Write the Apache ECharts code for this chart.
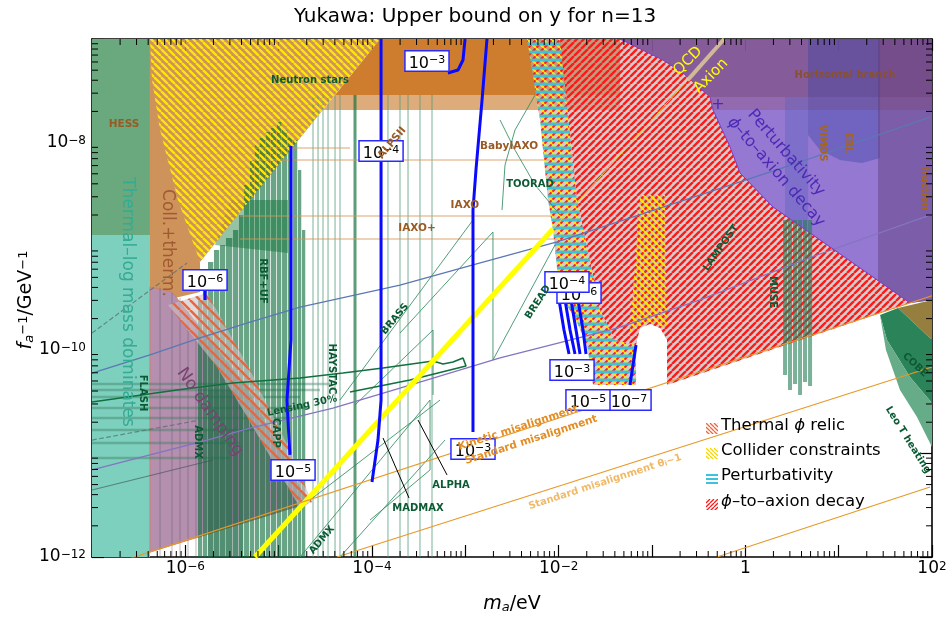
<!DOCTYPE html>
<html>
<head>
<meta charset="utf-8">
<script src="https://cdn.jsdelivr.net/npm/echarts@6.0.0/dist/echarts.min.js"></script>
<style>html,body{margin:0;padding:0;background:#fff}#chart{width:950px;height:620px}</style>
</head>
<body>
<div id="chart"></div>
<script>
// All coordinates are [log10(m_a / eV), log10(f_a^-1 / GeV^-1)].

// ---- excluded / shaded regions ----
const thermalLog = [[-7,-8.892],[-6.379,-8.892],[-6.379,-12],[-7,-12]];
const hess = [[-7,-7],[-6.379,-7],[-6.379,-8.892],[-7,-8.892]];
const hessBand = [[-5.521,-8.554],[-4.9,-8.554],[-4.9,-9.066],[-5.682,-8.988]];
const starBand = [[-3.914,-7],[-1.343,-7],[-1.343,-7.541],[-4.396,-7.541]];
const starBandLight = [[-4.396,-7.541],[-1.343,-7.541],[-1.343,-7.685],[-4.525,-7.685]];
const collTherm = [[-6.379,-7],[-3.914,-7],[-5.843,-9.152],[-5.843,-9.442],[-6.111,-9.5],[-6.379,-9.394]];
const collider = [[-6.379,-7],[-3.914,-7],[-5.843,-9.152],[-6.079,-8.554],[-6.271,-7.878],[-6.357,-7.396]];
const noDamping = [[-6.379,-9.394],[-6.143,-9.442],[-5.361,-10.34],[-4.686,-11.479],[-6.379,-11.952]];
const greyColumn = [[-5.757,-10.388],[-5.382,-10.388],[-5.382,-12],[-5.757,-12]];
const thermalRelic = [[-6.186,-9.568],[-5.768,-9.452],[-5.307,-10.195],[-4.879,-10.967],[-4.643,-11.469],[-4.771,-11.527],[-5.382,-10.581],[-5.661,-10.166]];
const perturbativity = [[-2.339,-7],[-1.986,-7],[-1.803,-8.554],[-1.664,-9.133],[-1.557,-9.616],[-1.396,-9.905],[-1.171,-9.954],[-1.171,-10.34],[-1.632,-10.34],[-1.696,-9.954],[-1.825,-9.693],[-1.986,-9.471],[-2.028,-9.133],[-2.061,-8.844],[-2.114,-8.554],[-2.2,-7.782]];
const decay = [[-1.986,-7],[-1.343,-7],[-0.882,-7.203],[-0.668,-7.328],[-0.378,-7.56],[-0.346,-7.685],[-0.164,-8.042],[-0.057,-8.293],[0.297,-8.622],[1.765,-9.548],[-0.839,-10.34],[-0.839,-9.905],[-0.914,-9.79],[-1.021,-9.751],[-1.128,-9.79],[-1.171,-9.954],[-1.396,-9.905],[-1.557,-9.616],[-1.664,-9.133],[-1.803,-8.554]];
const colliderColumn = [[-1.128,-8.506],[-0.861,-8.506],[-0.839,-9.79],[-0.914,-9.77],[-1.021,-9.732],[-1.128,-9.77],[-1.236,-9.828],[-1.171,-9.037]];
const horizBranch = [[-1.343,-7],[2,-7],[2,-9.519],[1.765,-9.548],[0.297,-8.622],[-0.057,-8.293],[-0.164,-8.042],[-0.346,-7.685],[-0.378,-7.56],[-0.668,-7.328],[-0.882,-7.203]];
const hbBand = [[-0.378,-7.56],[2,-7.56],[2,-7.685],[-0.346,-7.685]];
const pertDecay = [[-0.346,-7.685],[2,-7.685],[2,-9.519],[1.765,-9.548],[0.297,-8.622],[-0.057,-8.293],[-0.164,-8.042]];
const ebl = [[0.672,-7],[1.443,-7],[1.443,-8.149],[1.25,-8.197],[1.014,-8.168],[0.8,-8.071],[0.672,-7.927]];
const vimos = [[0.425,-7.56],[0.672,-7.56],[0.672,-8.853],[0.425,-8.699]];
const dmFraction = [[1.422,-7],[2,-7],[2,-9.519],[1.765,-9.548],[1.422,-9.33]];
const olive = [[1.636,-9.597],[2,-9.519],[2,-9.905]];
const cobe = [[1.443,-9.664],[1.636,-9.597],[2,-9.905],[2,-10.514],[1.764,-10.263],[1.518,-9.905]];
const leoT = [[1.443,-9.664],[1.518,-9.905],[1.764,-10.263],[2,-10.514],[2,-10.938],[1.839,-10.649],[1.657,-10.388],[1.507,-10.002]];

// haloscope bars [mLeft, mRight, top, bottom]
const haloscopeBars = [
  [-5.864,-5.819,-9.519,-12],[-5.811,-5.765,-9.374,-12],[-5.757,-5.701,-9.152,-12],[-5.693,-5.637,-9.037,-12],
  [-5.629,-5.572,-8.988,-12],[-5.564,-5.497,-8.921,-12],[-5.489,-5.433,-8.844,-12],[-5.425,-5.379,-8.699,-12],
  [-5.371,-5.315,-8.409,-12],[-5.307,-5.262,-8.168,-12],[-5.254,-5.208,-8.023,-12],[-5.2,-5.144,-7.956,-12],
  [-5.136,-5.09,-7.898,-12],[-5.082,-5.026,-7.859,-12],[-5.018,-4.972,-7.801,-12],[-4.964,-4.908,-7.878,-12],
  [-4.9,-4.854,-7.95,-12],[-4.846,-4.801,-7.975,-12],[-4.793,-4.758,-8.264,-12],[-4.75,-4.715,-8.844,-12]
];
const museBars = [
  [0.404,0.447,-8.747,-10.243],[0.457,0.5,-8.747,-10.388],[0.511,0.554,-8.747,-10.33],
  [0.565,0.607,-8.747,-10.436],[0.618,0.661,-8.747,-10.311],[0.672,0.715,-8.747,-10.349]
];
// thin vertical limits [m, top, bottom]
const haloLines = [[-4.632,-7.541,-12],[-4.578,-7.541,-12],[-4.525,-7.541,-12],[-4.471,-7.541,-12],[-4.396,-7.541,-12],[-4.343,-7.541,-12],[-3.829,-7.541,-12],[-3.7,-7.541,-12],[-3.614,-7.541,-12],[-3.486,-7.541,-12],[-3.357,-7.541,-12]];
const haloThick = [[-4.182,-7.541,-12]];
const greyVLines = [[-6.271,-9.4,-12],[-6.143,-9.45,-12],[-6.057,-9.5,-12],[-5.971,-9.6,-12],[-5.886,-9.7,-12]];
// horizontal limits [coupling, mFrom, mTo]
const helioLines = [[-8.052,-5.307,-4.236],[-8.168,-5.414,-2.039],[-8.708,-5.414,-2.039],[-8.93,-5.414,-1.986]];
const greenHLines = [[-10.33,-7,-4.45],[-10.388,-7,-4.557],[-10.456,-7,-4.771],[-10.562,-7,-4.664],[-10.658,-7,-4.879],[-10.774,-7,-5.2],[-10.9,-7,-5.414],[-11.044,-7,-5.521]];

// ---- curves ----
const limitBlue = [[-7,-10.224],[-6.379,-10.05],[-5.843,-9.886],[-5.307,-9.732],[-4.771,-9.587],[-3.7,-9.375],[-2.918,-9.181],[-2.018,-8.959],[0.554,-8.197],[1.979,-7.753]];
const limitPurple = [[-7,-11.16],[-6.379,-11.015],[-5.843,-10.89],[-5.307,-10.755],[-4.418,-10.562],[-3.7,-10.369],[-2.628,-10.079],[-1.375,-9.79],[-0.486,-9.519],[0.768,-9.085],[1.979,-8.699]];
const lensing = [[-7,-10.504],[-6.089,-10.388],[-5.489,-10.32],[-4.771,-10.272],[-4.311,-10.224],[-3.882,-10.176],[-3.346,-10.108],[-3.239,-10.137],[-3.132,-10.118],[-3.025,-10.079],[-2.993,-10.156],[-3.593,-10.292],[-4.236,-10.407]];
const dashedA = [[-7,-9.838],[-5.982,-9.162]];
const dashedB = [[-7,-10.871],[-5.843,-10.678]];
const greyLimit = [[-7,-11.353],[-5.704,-11.064]];
const brass1 = [[-4.343,-10.485],[-2.918,-8.747]];
const brassBread = [[-3.7,-9.838],[-2.704,-8.863],[-2.704,-10.098],[-2.039,-8.988]];
const brass3 = [[-4.182,-10.533],[-3.346,-9.809],[-3.346,-10.436]];
const toorad1 = [[-2.628,-7.782],[-2.468,-8.072],[-2.253,-8.409],[-1.986,-8.699]];
const toorad2 = [[-2.253,-7.541],[-2.468,-7.878],[-2.575,-8.216],[-2.607,-8.651]];
const madmax1 = [[-4.771,-12],[-3.378,-10.485]];
const madmax2 = [[-4.343,-12],[-3.218,-10.871]];
const alpha1 = [[-4.664,-11.45],[-3.271,-10.485]];
const madmax3 = [[-4.021,-11.643],[-3.378,-11.16],[-3.378,-10.485]];
const alphaLeader = [[-3.507,-10.678],[-3.196,-11.208]];
const madmaxLeader = [[-3.882,-10.851],[-3.603,-11.431]];
const qcdAxion = [[-5.254,-12],[-2.061,-8.834]];
const qcdInside = [[-2.061,-8.834],[-0.62,-7.4]];
const qcdTop = [[-0.62,-7.4],[-0.227,-7]];
const kineticMis = [[-7,-12.135],[2,-9.478]];
const standardMis = [[-4.375,-12],[2,-10.166]];
const standardMisLow = [[-0.304,-12],[1.979,-11.324]];
const decayEdge = [[-1.343,-7],[-0.882,-7.203],[-0.668,-7.328],[-0.378,-7.56],[-0.346,-7.685],[-0.164,-8.042],[-0.057,-8.293],[0.297,-8.622],[1.765,-9.548]];

// contours of the Yukawa bound
const contours = [
  [[-5.789,-9.423],[-5.789,-9.519]],
  [[-4.868,-8.033],[-4.868,-9.905],[-4.911,-10.485],[-4.889,-10.871],[-4.879,-11.015]],
  [[-3.903,-7],[-3.903,-10.485],[-3.936,-10.871],[-4.0,-11.276]],
  [[-3.186,-7.328],[-3.078,-7.299],[-3.025,-7.203],[-3.003,-7]],
  [[-2.768,-7],[-2.821,-7.589],[-2.886,-8.264],[-2.918,-8.651],[-2.918,-10.793]],
  [[-1.996,-9.519],[-1.943,-9.809],[-1.889,-10.041]],
  [[-1.932,-9.519],[-1.878,-9.809],[-1.825,-10.041]],
  [[-1.868,-9.519],[-1.814,-9.809],[-1.771,-10.041]],
  [[-1.793,-9.519],[-1.739,-9.809],[-1.707,-10.041]],
  [[-1.171,-9.954],[-1.236,-10.34]]
];
// contour labels [m, coupling, exponent]
const contourLabels = [
  [-3.411,-7.212,-3],[-3.903,-8.081,-4],[-5.789,-9.326,-6],[-4.846,-11.16,-5],[-2.918,-10.958,-3],
  [-1.782,-9.452,-6],[-1.911,-9.346,-4],[-1.857,-10.195,-3],[-1.246,-10.485,-7],[-1.686,-10.485,-5]
];

// text annotations [text, m, coupling, rotate, style]
const annotations = [
  ['Neutron stars',-4.664,-7.396,0,'green'],
  ['HESS',-6.657,-7.82,0,'brown'],
  ['BabyIAXO',-2.532,-8.033,0,'brown'],
  ['TOORAD',-2.307,-8.4,0,'green'],
  ['IAXO',-3.004,-8.602,0,'brown'],
  ['IAXO+',-3.518,-8.824,0,'brown'],
  ['RBF+UF',-5.168,-9.336,-90,'green'],
  ['BRASS',-3.754,-9.703,50,'green'],
  ['BREAD',-2.221,-9.539,57,'green'],
  ['HAYSTAC',-4.429,-10.185,-90,'green'],
  ['Lensing 30%',-4.75,-10.542,12,'green'],
  ['CAPP',-5.029,-10.803,-90,'green'],
  ['FLASH',-6.454,-10.417,-90,'green'],
  ['ADMX',-5.864,-10.89,-90,'green'],
  ['ADMX',-4.536,-11.836,50,'green'],
  ['MADMAX',-3.507,-11.527,0,'green'],
  ['ALPHA',-3.153,-11.305,0,'green'],
  ['LAMPOST',-0.261,-9.017,55,'green'],
  ['MUSE',0.297,-9.442,-90,'green'],
  ['COBE',1.818,-10.147,-43,'green'],
  ['Leo T heating',1.743,-10.871,-58,'green'],
  ['Horizontal branch',1.068,-7.347,0,'hb'],
  ['VIMOS',0.832,-8.004,-90,'amber'],
  ['EBL',1.1,-8.004,-90,'amber'],
  ['fraction',1.925,-8.438,-90,'amber'],
  ['Kinetic misalignment',-2.436,-10.755,18,'orange'],
  ['Standard misalignment',-2.296,-10.871,18,'orange'],
  ['Standard misalignment θ{sub|i}~1',-1.503,-11.276,18,'paleOrange'],
  ['QCD',-0.614,-7.212,45,'qcd'],
  ['Axion',-0.368,-7.357,45,'qcd'],
  ['+',-0.293,-7.637,0,'pert'],
  ['Perturbativity',0.436,-8.1,-49,'pert'],
  ['{i|ϕ}–to–axion decay',0.329,-8.284,-49,'pert'],
  ['Thermal–log mass dominates',-6.625,-9.539,-90,'teal'],
  ['Coll.+therm.',-6.196,-8.969,-90,'coll'],
  ['No damping',-5.736,-10.6,-55,'damp'],
  ['ALPSII',-3.786,-8.004,50,'brown']
];

// axis ticks
const xMin = -7, xMax = 2, yMin = -12, yMax = -7;
const minorSteps = [2,3,4,5,6,7,8,9];

// ---- hatch fills ----
function makeHatch(size, bg, layers){
  const c = document.createElement('canvas');
  c.width = size; c.height = size;
  const g = c.getContext('2d');
  if (bg){ g.fillStyle = bg; g.fillRect(0,0,size,size); }
  layers.forEach(L => {
    g.strokeStyle = L.color; g.lineWidth = L.width; g.beginPath();
    if (L.dir === 'horiz'){ g.moveTo(0,size/2); g.lineTo(size,size/2); }
    else for (let k=-1;k<=1;k++){
      if (L.dir === 'back'){ g.moveTo(k*size,0); g.lineTo(k*size+size,size); }
      else { g.moveTo(k*size,size); g.lineTo(k*size+size,0); }
    }
    g.stroke();
  });
  return {image:c, repeat:'repeat'};
}
const greyBg = 'rgba(185,175,175,0.62)';
const colliderFill = makeHatch(7, null, [{color:'#ffe60a', width:2.3, dir:'back'}]);
const relicFill = makeHatch(10, 'rgba(200,195,200,0.6)', [{color:'#f0643c', width:2.6, dir:'back'}]);
const decayFill = makeHatch(7, greyBg, [{color:'#ff1a1a', width:2.4, dir:'fwd'}]);
const pertFill = makeHatch(8, greyBg, [{color:'#ff1a1a', width:2, dir:'fwd'},{color:'#ffe60a', width:2, dir:'back'},{color:'#3cc3dc', width:3, dir:'horiz'}]);
const crossFill = makeHatch(7, greyBg, [{color:'#ff1a1a', width:2.2, dir:'fwd'},{color:'#ffe60a', width:2.2, dir:'back'}]);
const iconRelic = makeHatch(4, null, [{color:'#f0643c', width:1.3, dir:'back'}]);
const iconCollider = makeHatch(4, null, [{color:'#f5d800', width:1.3, dir:'back'}]);
const iconPert = makeHatch(4, null, [{color:'#3cc3dc', width:2, dir:'horiz'}]);
const iconDecay = makeHatch(4, null, [{color:'#ff1a1a', width:1.3, dir:'fwd'}]);

// ---- series builders ----
function poly(pts, style){
  return {type:'custom', coordinateSystem:'cartesian2d', silent:true, clip:true, animation:false, z:2,
    data:[pts[0]],
    renderItem:(p, api) => ({type:'polygon', shape:{points:pts.map(q => api.coord(q))}, style:Object.assign({}, style)})};
}
function curve(pts, color, width, extra){
  return {type:'line', data:pts, symbol:'none', silent:true, clip:true, animation:false, z:2,
    lineStyle:Object.assign({color:color, width:width}, extra || {})};
}
function rects(list, fill){
  return {type:'custom', coordinateSystem:'cartesian2d', silent:true, clip:true, animation:false, z:2,
    data:list, encode:{x:[0,1], y:[2,3]},
    renderItem:(p, api) => {
      const a = api.coord([api.value(0), api.value(2)]);
      const b = api.coord([api.value(1), api.value(3)]);
      return {type:'rect', shape:{x:a[0], y:a[1], width:b[0]-a[0], height:b[1]-a[1]}, style:{fill:fill}};
    }};
}
function vlines(list, color, width){
  return {type:'custom', coordinateSystem:'cartesian2d', silent:true, clip:true, animation:false, z:2,
    data:list, encode:{x:0, y:[1,2]},
    renderItem:(p, api) => {
      const a = api.coord([api.value(0), api.value(1)]);
      const b = api.coord([api.value(0), api.value(2)]);
      return {type:'line', shape:{x1:a[0], y1:a[1], x2:b[0], y2:b[1]}, style:{stroke:color, lineWidth:width}};
    }};
}
function hlines(list, color, width){
  return {type:'custom', coordinateSystem:'cartesian2d', silent:true, clip:true, animation:false, z:2,
    data:list, encode:{y:0, x:[1,2]},
    renderItem:(p, api) => {
      const a = api.coord([api.value(1), api.value(0)]);
      const b = api.coord([api.value(2), api.value(0)]);
      return {type:'line', shape:{x1:a[0], y1:a[1], x2:b[0], y2:b[1]}, style:{stroke:color, lineWidth:width}};
    }};
}

const font = 'DejaVu Sans';
const annStyles = {
  green:{fill:'#0c5a34', fontSize:10, fontWeight:'bold'},
  brown:{fill:'#9a5a24', fontSize:10.5, fontWeight:'bold'},
  hb:{fill:'#8a5030', fontSize:10, fontWeight:'bold'},
  amber:{fill:'#a5661c', fontSize:10, fontWeight:'bold'},
  orange:{fill:'#e38d22', fontSize:10.5, fontWeight:'bold'},
  paleOrange:{fill:'#f0b968', fontSize:10, fontWeight:'bold'},
  qcd:{fill:'#ffff00', fontSize:15, fontWeight:'normal'},
  pert:{fill:'#4c2ab4', fontSize:16, fontWeight:'normal'},
  teal:{fill:'#34ab93', fontSize:17, fontWeight:'normal'},
  coll:{fill:'#a25a32', fontSize:17, fontWeight:'normal'},
  damp:{fill:'#774470', fontSize:17, fontWeight:'normal'}
};

const series = [
  poly(thermalLog, {fill:'#7dcfbe'}),
  poly(hess, {fill:'#6aa97e'}),
  poly(hessBand, {fill:'rgba(80,155,105,0.6)'}),
  poly(starBand, {fill:'#cd7d2d'}),
  poly(starBandLight, {fill:'#deab7b'}),
  poly(collTherm, {fill:'rgba(196,128,62,0.85)'}),
  poly(noDamping, {fill:'#b48fae', stroke:'#d0806a', lineWidth:1}),
  poly(greyColumn, {fill:'rgba(90,90,105,0.35)'}),
  vlines(greyVLines, 'rgba(90,90,105,0.35)', 1.2),
  hlines(greenHLines, 'rgba(60,125,95,0.42)', 2.4),
  vlines(haloLines, 'rgba(80,155,120,0.55)', 1.4),
  vlines(haloThick, 'rgba(25,115,65,0.7)', 3),
  rects(haloscopeBars, 'rgba(12,108,58,0.62)'),
  hlines(helioLines, 'rgba(215,150,90,0.85)', 1.1),
  poly(collider, {fill:colliderFill}),
  poly(thermalRelic, {fill:relicFill}),
  curve(dashedA, 'rgba(80,110,110,0.7)', 1.2, {type:'dashed'}),
  curve(dashedB, 'rgba(80,110,110,0.7)', 1.2, {type:'dashed'}),
  curve(greyLimit, 'rgba(60,80,80,0.6)', 1.2),
  curve(brass1, 'rgba(50,140,95,0.85)', 1),
  curve(brassBread, 'rgba(50,140,95,0.85)', 1),
  curve(brass3, 'rgba(50,140,95,0.85)', 1),
  curve(toorad1, 'rgba(50,140,95,0.85)', 1),
  curve(toorad2, 'rgba(50,140,95,0.85)', 1),
  curve(madmax1, 'rgba(50,140,95,0.85)', 1),
  curve(madmax2, 'rgba(50,140,95,0.85)', 1),
  curve(alpha1, 'rgba(50,140,95,0.85)', 1),
  curve(madmax3, 'rgba(50,140,95,0.85)', 1),
  curve(limitBlue, '#5b78b4', 1.3),
  curve(limitPurple, '#8574c0', 1.3),
  curve(lensing, '#12703e', 1.6),
  poly(perturbativity, {fill:pertFill}),
  poly(decay, {fill:decayFill}),
  poly(colliderColumn, {fill:crossFill}),
  poly(horizBranch, {fill:'rgba(128,82,148,0.95)'}),
  poly(hbBand, {fill:'rgba(165,125,205,0.45)'}),
  poly(pertDecay, {fill:'#9478d2'}),
  poly(ebl, {fill:'rgba(60,70,165,0.4)'}),
  poly(vimos, {fill:'rgba(85,95,190,0.35)'}),
  poly(dmFraction, {fill:'rgba(95,60,120,0.45)'}),
  curve(decayEdge, '#7a3cc8', 1),
  rects(museBars, 'rgba(35,125,85,0.6)'),
  poly(olive, {fill:'#967f3e'}),
  poly(cobe, {fill:'#2b8459'}),
  poly(leoT, {fill:'#66ac88'}),
  curve(qcdAxion, '#ffff00', 5),
  curve(qcdInside, '#e8d040', 1),
  curve(qcdTop, 'rgba(215,195,150,0.9)', 4),
  curve(kineticMis, '#e8992a', 1.2),
  curve(standardMis, '#e8992a', 1.2),
  curve(standardMisLow, '#e8992a', 1.2),
  curve(alphaLeader, '#000', 1),
  curve(madmaxLeader, '#000', 1)
];
contours.forEach(c => series.push(curve(c, '#0a0aff', 3)));

// contour label boxes
series.push({
  type:'custom', coordinateSystem:'cartesian2d', silent:true, animation:false, z:30, clip:false,
  data:contourLabels, encode:{x:0, y:1},
  renderItem:(p, api) => {
    const c = api.coord([api.value(0), api.value(1)]);
    return {type:'text', x:c[0], y:c[1], style:{
      text:'{n|10}{s|−' + (-api.value(2)) + '}', align:'center', verticalAlign:'middle',
      backgroundColor:'#fff', borderColor:'#2a2aff', borderWidth:1.5, padding:[0,3,1,3],
      rich:{n:{fontSize:16, fontFamily:font, fill:'#000', lineHeight:18, padding:[8,0,2,0]},
            s:{fontSize:11, fontFamily:font, fill:'#000', lineHeight:12, verticalAlign:'top', padding:[3,0,0,0]}}}};
  }
});

// text annotations
series.push({
  type:'custom', coordinateSystem:'cartesian2d', silent:true, animation:false, z:40, clip:true,
  data:annotations.map(a => [a[1], a[2]]), encode:{x:0, y:1},
  renderItem:(p, api) => {
    const a = annotations[p.dataIndex];
    const st = annStyles[a[4]];
    const c = api.coord([a[1], a[2]]);
    return {type:'text', x:c[0], y:c[1], rotation:a[3] * Math.PI / 180, style:{
      text:a[0], align:'center', verticalAlign:'middle', fontFamily:font,
      fill:st.fill, fontSize:st.fontSize, fontWeight:st.fontWeight,
      rich:{i:{fontStyle:'italic', fontSize:st.fontSize, fill:st.fill, fontFamily:font},
            sub:{fontSize:7, fill:st.fill, fontWeight:'bold', verticalAlign:'bottom', fontFamily:font}}}};
  }
});

// minor ticks on all four sides
series.push({
  type:'custom', silent:true, animation:false, z:60, clip:false, data:[[xMin, yMin]],
  renderItem:(params, api) => {
    const cs = params.coordSys;
    const kids = [];
    const st = {stroke:'#000', lineWidth:1};
    for (let d = xMin; d < xMax; d++) minorSteps.forEach(k => {
      const x = api.coord([d + Math.log10(k), yMin])[0];
      kids.push({type:'line', shape:{x1:x, y1:cs.y+cs.height, x2:x, y2:cs.y+cs.height-6}, style:st});
      kids.push({type:'line', shape:{x1:x, y1:cs.y, x2:x, y2:cs.y+6}, style:st});
    });
    for (let d = yMin; d < yMax; d++) minorSteps.forEach(k => {
      const y = api.coord([xMin, d + Math.log10(k)])[1];
      kids.push({type:'line', shape:{x1:cs.x, y1:y, x2:cs.x+6, y2:y}, style:st});
      kids.push({type:'line', shape:{x1:cs.x+cs.width, y1:y, x2:cs.x+cs.width-6, y2:y}, style:st});
    });
    return {type:'group', children:kids};
  }
});

function powLabel(v){
  if (v === 0) return '{n|1}';
  return '{n|10}{s|' + (v < 0 ? '−' + (-v) : v) + '}';
}
const tickRich = {
  n:{fontSize:17, fontFamily:font, color:'#000', lineHeight:18, padding:[6,0,6,0]},
  s:{fontSize:12, fontFamily:font, color:'#000', lineHeight:12, verticalAlign:'top', padding:[1,0,0,0]}
};
const axisLine = {show:true, onZero:false, lineStyle:{color:'#000', width:1.6}};
const axisTick = {show:true, inside:true, length:12, lineStyle:{color:'#000', width:1.2}};

const legendItems = [
  [iconRelic, 'Thermal {i|ϕ} relic', 428],
  [iconCollider, 'Collider constraints', 453],
  [iconPert, 'Perturbativity', 478],
  [iconDecay, '{i|ϕ}–to–axion decay', 504]
];
const graphics = [];
legendItems.forEach(it => {
  graphics.push({type:'rect', left:706, top:it[2]-5, shape:{width:12, height:11}, style:{fill:it[0]}, z:100});
  graphics.push({type:'text', left:721, top:it[2]-11, z:100,
    style:{text:it[1], fontSize:16.5, fontFamily:font, fill:'#000',
      rich:{i:{fontStyle:'italic', fontSize:16.5, fontFamily:font, fill:'#000'}}}});
});
graphics.push({type:'text', x:26, y:300, rotation:Math.PI/2, z:100,
  style:{text:'{i|f}{sub|a}{sup|−1}{n|/GeV}{sup|−1}', align:'center', verticalAlign:'middle',
    rich:{i:{fontStyle:'italic', fontSize:19, fontFamily:font, fill:'#000', lineHeight:20, padding:[5,0,5,0]},
          n:{fontSize:19, fontFamily:font, fill:'#000', lineHeight:20, padding:[5,0,5,0]},
          sub:{fontStyle:'italic', fontSize:13, fontFamily:font, fill:'#000', lineHeight:13, verticalAlign:'bottom'},
          sup:{fontSize:13, fontFamily:font, fill:'#000', lineHeight:13, verticalAlign:'top', padding:[1,0,0,0]}}}});
graphics.push({type:'text', x:512, y:604, z:100,
  style:{text:'{i|m}{sub|a}{n|/eV}', align:'center', verticalAlign:'middle',
    rich:{i:{fontStyle:'italic', fontSize:19, fontFamily:font, fill:'#000', lineHeight:20, padding:[3,0,3,0]},
          n:{fontSize:19, fontFamily:font, fill:'#000', lineHeight:20, padding:[3,0,3,0]},
          sub:{fontStyle:'italic', fontSize:13, fontFamily:font, fill:'#000', lineHeight:13, verticalAlign:'bottom'}}}});

const option = {
  animation:false,
  backgroundColor:'#fff',
  textStyle:{fontFamily:font},
  title:{text:'Yukawa: Upper bound on y for n=13', left:'center', top:2,
    textStyle:{fontFamily:font, fontSize:20, fontWeight:'normal', color:'#000'}},
  grid:{left:92, right:18, top:39, bottom:63},
  xAxis:[
    {type:'value', min:xMin, max:xMax, interval:1, position:'bottom', axisLine:axisLine, axisTick:axisTick,
     splitLine:{show:false},
     axisLabel:{margin:3, formatter:v => (v % 2 === 0 ? powLabel(v) : ''), rich:tickRich}},
    {type:'value', min:xMin, max:xMax, interval:1, position:'top', axisLine:axisLine, axisTick:axisTick,
     splitLine:{show:false}, axisLabel:{show:false}}
  ],
  yAxis:[
    {type:'value', min:yMin, max:yMax, interval:1, position:'left', axisLine:axisLine, axisTick:axisTick,
     splitLine:{show:false},
     axisLabel:{margin:6, formatter:v => (v % 2 === 0 ? powLabel(v) : ''), rich:tickRich}},
    {type:'value', min:yMin, max:yMax, interval:1, position:'right', axisLine:axisLine, axisTick:axisTick,
     splitLine:{show:false}, axisLabel:{show:false}}
  ],
  graphic:graphics,
  series:series
};
const chart = echarts.init(document.getElementById('chart'));
chart.setOption(option);
</script>
</body>
</html>
